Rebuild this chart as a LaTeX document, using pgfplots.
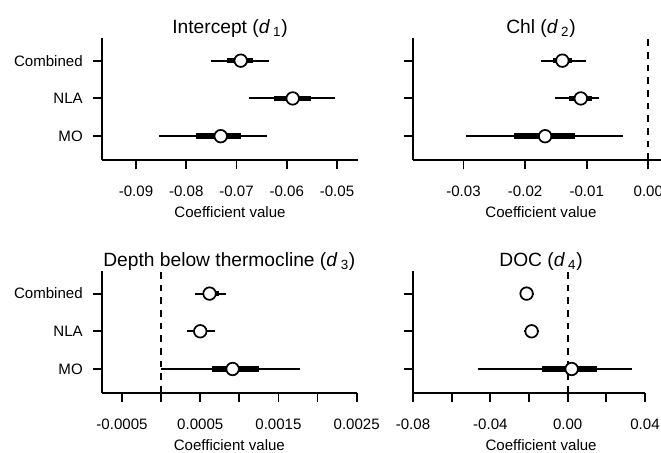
\documentclass[border=0pt]{standalone}
\usepackage{fontspec}
\setmainfont{Liberation Sans}
\usepackage{pgfplots}
\pgfplotsset{compat=1.18}

\pgfplotsset{
 forest/.style={
  scale only axis,
  axis lines=left,
  axis line style={-, line width=1.4pt},
  tick align=outside,
  major tick length=7pt,
  tick style={line width=1.4pt, black},
  ytick={1,2,3},
  ymin=0.37, ymax=3.6,
  scaled ticks=false,
  clip=false,
  anchor=south west,
  tick label style={font=\fontsize{11.3}{13}\selectfont},
  xticklabel style={anchor=base, inner sep=0pt, yshift=-20.5pt},
  yticklabel style={anchor=east, inner sep=0pt, xshift=-7.25pt},
  xlabel={Coefficient value},
  xlabel style={font=\fontsize{11.3}{13}\selectfont, at={(axis description cs:#1,0)}, anchor=base, inner sep=0pt, yshift=-43pt},
  title style={font=\fontsize{14.4}{17}\selectfont, at={(axis description cs:#1,1)}, anchor=base, inner sep=0pt, yshift=-2.5pt},
 },
 thin/.style={black, line width=1.4pt, forget plot},
 thick/.style={black, line width=4.2pt, forget plot},
 est/.style={only marks, mark=*, mark size=4.7pt, mark options={fill=white, draw=black, line width=1.3pt}},
 zero/.style={black, line width=1.4pt, dash pattern=on 5pt off 4.5pt},
}

\begin{document}
\begin{tikzpicture}
\path[use as bounding box] (0,0) rectangle (495.75pt,339.75pt);

% ---------------- Intercept ----------------
\begin{axis}[forest=0.5, at={(76.5pt,219.75pt)}, width=192pt, height=91.5pt,
  xmin=-0.09677, xmax=-0.04582,
  xtick={-0.09,-0.08,-0.07,-0.06,-0.05},
  xticklabels={-0.09,-0.08,-0.07,-0.06,-0.05},
  yticklabels={MO,NLA,Combined},
  title={Intercept (\textit{d}\,\textsubscript{1})}]
% Combined (y=3)
\addplot[thin] coordinates {(-0.07507,3) (-0.06353,3)};
\addplot[thick] coordinates {(-0.07189,3) (-0.06672,3)};
% NLA (y=2)
\addplot[thin] coordinates {(-0.06751,2) (-0.05040,2)};
\addplot[thick] coordinates {(-0.06254,2) (-0.05517,2)};
% MO (y=1)
\addplot[thin] coordinates {(-0.08536,1) (-0.06399,1)};
\addplot[thick] coordinates {(-0.07806,1) (-0.06910,1)};
\addplot[est] coordinates {(-0.06916,3) (-0.05882,2) (-0.07314,1)};
\end{axis}

% ---------------- Chl ----------------
\begin{axis}[forest=0.516, at={(309.75pt,219.75pt)}, width=186pt, height=91.5pt,
  xmin=-0.0382, xmax=0.00206,
  xtick={-0.03,-0.02,-0.01,0},
  xticklabels={-0.03,-0.02,-0.01,0.00},
  yticklabels={,,},
  title={Chl (\textit{d}\,\textsubscript{2})}]
\addplot[zero] coordinates {(0,0.37) (0,3.6)};
\addplot[thin] coordinates {(-0.01745,3) (-0.01010,3)};
\addplot[thick] coordinates {(-0.01550,3) (-0.01242,3)};
\addplot[thin] coordinates {(-0.01508,2) (-0.00795,2)};
\addplot[thick] coordinates {(-0.01281,2) (-0.00918,2)};
\addplot[thin] coordinates {(-0.02956,1) (-0.00406,1)};
\addplot[thick] coordinates {(-0.02173,1) (-0.01189,1)};
\addplot[est] coordinates {(-0.01395,3) (-0.01096,2) (-0.01675,1)};
\end{axis}

% ---------------- Depth below thermocline ----------------
\begin{axis}[forest=0.5, at={(76.5pt,45.2pt)}, width=191pt, height=91.3pt,
  xmin=-0.000756, xmax=0.0025,
  xtick={-0.0005,0,0.0005,0.001,0.0015,0.002,0.0025},
  xticklabels={-0.0005,,0.0005,,0.0015,,0.0025},
  yticklabels={MO,NLA,Combined},
  title={Depth below thermocline (\textit{d}\,\textsubscript{3})}]
\addplot[zero] coordinates {(0,0.37) (0,3.6)};
\addplot[thin] coordinates {(0.000436,3) (0.000829,3)};
\addplot[thick] coordinates {(0.000542,3) (0.000735,3)};
\addplot[thin] coordinates {(0.000329,2) (0.000692,2)};
\addplot[thick] coordinates {(0.000436,2) (0.000586,2)};
\addplot[thin] coordinates {(0.0,1) (0.001773,1)};
\addplot[thick] coordinates {(0.000654,1) (0.001247,1)};
\addplot[est] coordinates {(0.000619,3) (0.0005,2) (0.000914,1)};
\end{axis}

% ---------------- DOC ----------------
\begin{axis}[forest=0.552, at={(309.75pt,45.2pt)}, width=174pt, height=91.3pt,
  xmin=-0.08, xmax=0.04,
  xtick={-0.08,-0.06,-0.04,-0.02,0,0.02,0.04},
  xticklabels={-0.08,,-0.04,,0.00,,0.04},
  yticklabels={,,},
  title={DOC (\textit{d}\,\textsubscript{4})}]
\addplot[zero] coordinates {(0,0.37) (0,3.6)};
\addplot[thin] coordinates {(-0.02383,3) (-0.01746,3)};
\addplot[thick] coordinates {(-0.0226,3) (-0.0195,3)};
\addplot[thin] coordinates {(-0.02249,2) (-0.01487,2)};
\addplot[thick] coordinates {(-0.0211,2) (-0.0164,2)};
\addplot[thin] coordinates {(-0.04663,1) (0.03347,1)};
\addplot[thick] coordinates {(-0.01332,1) (0.01503,1)};
\addplot[est] coordinates {(-0.02124,3) (-0.01865,2) (0.00207,1)};
\end{axis}
\end{tikzpicture}
\end{document}
